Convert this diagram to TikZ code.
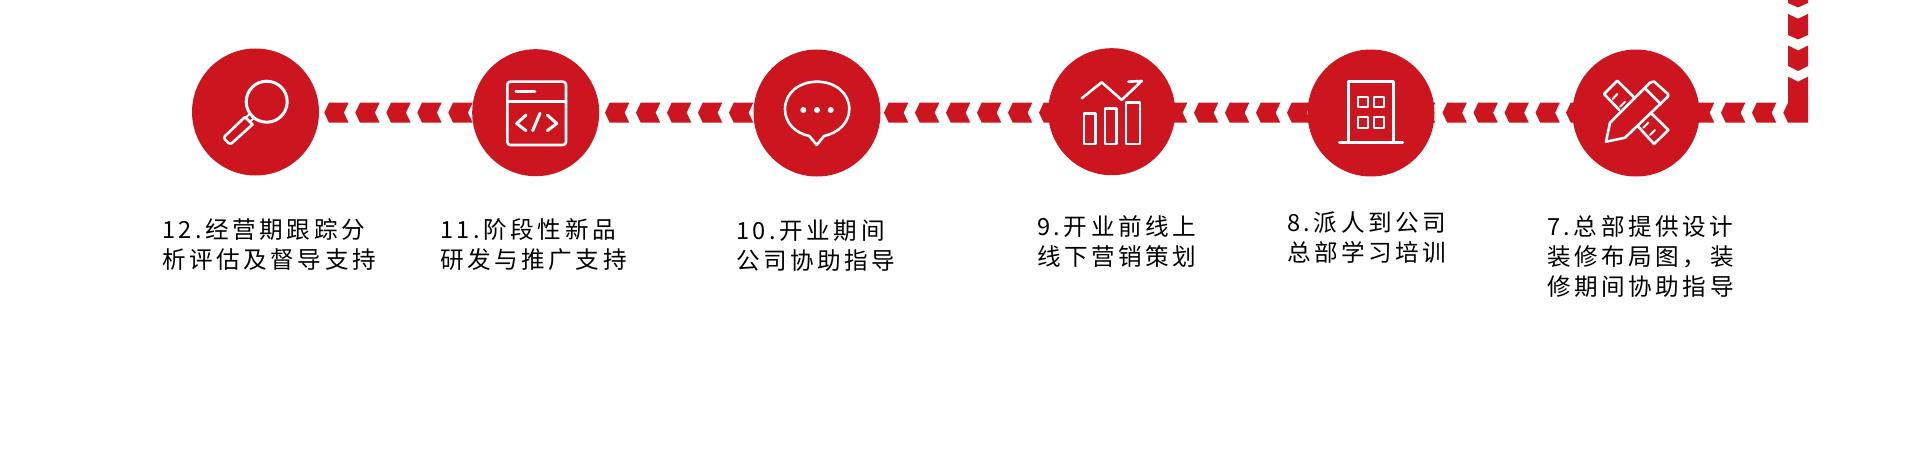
\documentclass[tikz,border=0pt]{standalone}
\usepackage{fontspec}
\setmainfont[LetterSpace=15]{Noto Sans CJK SC}
\definecolor{brandred}{HTML}{CD1520}
\tikzset{
  disc/.style={circle,fill=brandred,draw=none,minimum size=127pt,inner sep=0pt},
  glyph/.style={draw=white,line width=2.6pt,line cap=round,line join=round,fill=none},
  thin glyph/.style={glyph,line width=2pt},
  caption/.style={anchor=west,align=left,inner sep=0pt,text=black,font=\fontsize{23.6}{30}\selectfont}
}
\newcommand{\leftchev}[1]{\fill[brandred] (#1,112.7) -- ++(4.7,-10) -- ++(19.6,0) -- ++(-4.7,10) -- ++(4.7,10) -- ++(-19.6,0) -- cycle;}
\begin{document}
\begin{tikzpicture}[x=1pt,y=-1pt]
\useasboundingbox (0,0) rectangle (1920,452);
\foreach \a in {324.3,355.3,386.3,417.3,448.3,
                605,636,667,698,729,
                884,915,946,977,1008,1039,
                1163,1194,1225,1256,1287,
                1411,1442.5,1473.5,1504.5,1535.5,1566,
                1690,1721,1752}{\leftchev{\a}}
% vertical run and corner
\fill[brandred] (1788,0) -- (1808,0) -- (1808,3) -- (1798,7.5) -- (1788,3) -- cycle;
\fill[brandred] (1788,14) -- (1798,18.7) -- (1808,14) -- (1808,35) -- (1798,39.5) -- (1788,35) -- cycle;
\fill[brandred] (1788,45.5) -- (1798,50.5) -- (1808,45.5) -- (1808,66) -- (1798,71) -- (1788,66) -- cycle;
\fill[brandred] (1788,76.7) -- (1798,81.7) -- (1808,76.7) -- (1808,122.7) -- (1788,122.7) -- (1783.3,112.7) -- (1788,102.7) -- cycle;
% discs
\node[disc] (c12) at (255.5,112) {};
\node[disc] (c11) at (535.7,112.7) {};
\node[disc] (c10) at (817,113) {};
\node[disc] (c9) at (1111.7,111.7) {};
\node[disc] (c8) at (1371,113) {};
\node[disc] (c7) at (1636,113) {};
% icon 12: magnifier
\draw[glyph,line width=3pt] (266.7,101.7) circle (20.5);
\draw[glyph] (245,117) -- (252.5,124.5) -- (232,143) .. controls (231,144) and (229.5,144) .. (228.5,143) -- (225,139.5) .. controls (224,138.5) and (224,137) .. (225,136) -- cycle;
\draw[thin glyph] (249.3,114.3) -- (246,117.5);
\draw[thin glyph] (253.3,118.3) -- (250,122);
% icon 11: code window
\draw[glyph,rounded corners=3pt] (507.3,81.7) rectangle (566,145);
\draw[glyph] (507.3,101.7) -- (566,101.7);
\draw[glyph] (515.7,91.7) -- (535,91.7);
\draw[glyph,line width=3pt] (526,115) -- (516.7,123.5) -- (526,130.7);
\draw[glyph,line width=3pt] (540,113.3) -- (532.7,130.7);
\draw[glyph,line width=3pt] (547.3,115) -- (556.7,123.5) -- (547.3,130.7);
% icon 10: speech bubble
\draw[glyph] (809.3,136) .. controls (795,133) and (785,123) .. (785,109)
  .. controls (785,93) and (799,81.7) .. (817,81.7)
  .. controls (835,81.7) and (849.3,93) .. (849.3,109)
  .. controls (849.3,123) and (838,133) .. (824,136)
  -- (816.7,145) -- cycle;
\fill[white] (803.3,110) circle (3) (817,110) circle (3) (830.7,110) circle (3);
% icon 9: chart
\draw[glyph] (1081.7,98.3) -- (1101.7,82.3) -- (1121.7,100) -- (1141.7,81) -- (1128.3,81.7);
\draw[glyph,line cap=butt] (1084,113.3) rectangle (1095.3,144);
\draw[glyph,line cap=butt] (1105,108.3) rectangle (1116.7,144);
\draw[glyph,line cap=butt] (1126,102.7) rectangle (1140,144);
% icon 8: building
\draw[glyph] (1348.3,142.3) -- (1348.3,81.7) -- (1393.3,81.7) -- (1393.3,142.3);
\draw[glyph,line width=3pt] (1339.3,142.3) -- (1402.7,142.3);
\draw[thin glyph] (1357.7,96.7) rectangle (1367.7,107.3);
\draw[thin glyph] (1374,96.7) rectangle (1384.3,107.3);
\draw[thin glyph] (1357.7,117.3) rectangle (1367.7,128.3);
\draw[thin glyph] (1374,117.3) rectangle (1384.3,128.3);
% icon 7: pencil and ruler
\draw[glyph] (1606,141.7) -- (1610,122.7) -- (1650,82.7) -- (1654,81.5) -- (1668,94) -- (1668,96.5) -- (1625,137.7) -- cycle;
\draw[glyph] (1645,88.3) -- (1661,104.3);
\draw[glyph] (1619.3,110) -- (1604,94) -- (1617.3,80.7) -- (1635,98.3);
\draw[glyph] (1638.3,126.7) -- (1654,144) -- (1668.3,130) -- (1650.7,112.7);
\draw[thin glyph] (1617.3,94) -- (1612.7,99);
\draw[thin glyph] (1625,101.7) -- (1620,106.7);
\draw[thin glyph] (1648.3,122.7) -- (1643.3,127.7);
\draw[thin glyph] (1655,130) -- (1650,135);
% captions
\node[caption] (t12) at (162,244.3) {12.经营期跟踪分\\析评估及督导支持};
\node[caption] (t11) at (440,245) {11.阶段性新品\\研发与推广支持};
\node[caption] (t10) at (736,246) {10.开业期间\\公司协助指导};
\node[caption] (t9) at (1037,241.7) {9.开业前线上\\线下营销策划};
\node[caption] (t8) at (1287,237.7) {8.派人到公司\\总部学习培训};
\node[caption] (t7) at (1547,256.5) {7.总部提供设计\\装修布局图，装\\修期间协助指导};
\end{tikzpicture}
\end{document}
